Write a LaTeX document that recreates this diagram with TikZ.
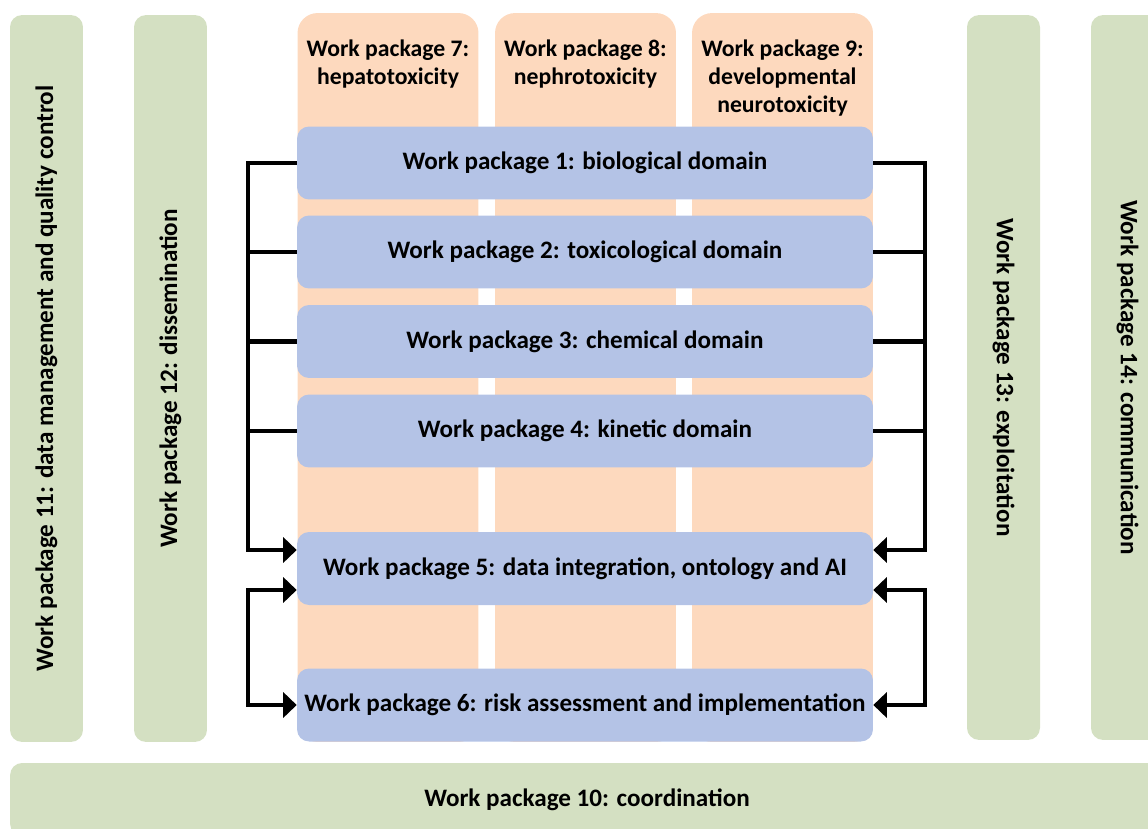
\documentclass[tikz,border=0pt]{standalone}
\usepackage{fontspec}
\setmainfont{Carlito}
\usetikzlibrary{arrows.meta}
\definecolor{sidegreen}{HTML}{D4E0C2}
\definecolor{casepeach}{HTML}{FDD9BE}
\definecolor{domblue}{HTML}{B4C3E6}
\tikzstyle{wpside} = [fill=sidegreen, rounded corners=0.24cm, inner sep=0pt, font=\bfseries\fontsize{14.3}{16}\selectfont]
\tikzstyle{wpcase} = [fill=casepeach, rounded corners=0.4cm, minimum width=3.62cm, minimum height=14.58cm, inner sep=0pt]
\tikzstyle{wptitle} = [font=\bfseries\fontsize{13.5}{15.9}\selectfont, align=center, anchor=north, inner sep=0pt]
\tikzstyle{wpdomain} = [fill=domblue, rounded corners=0.24cm, minimum width=11.52cm, minimum height=1.46cm, inner sep=0pt, font=\bfseries\fontsize{14.3}{16}\selectfont]
\tikzstyle{bus} = [line width=2.3pt]

\begin{document}
\begin{tikzpicture}[x=0.02cm,y=-0.02cm]
    \useasboundingbox (0,0) rectangle (1148,828);
    \clip (0,0) rectangle (1148,828);
    % side work packages
    \node[wpside, rotate=90, minimum width=14.54cm, minimum height=1.46cm] (wp11) at (46.5,378.5) {Work package 11: data management and quality control};
    \node[wpside, rotate=90, minimum width=14.54cm, minimum height=1.46cm] (wp12) at (170.5,378.5) {Work package 12: dissemination};
    \node[wpside, rotate=-90, minimum width=14.5cm, minimum height=1.46cm] (wp13) at (1003.5,377.5) {Work package 13: exploitation};
    \node[wpside, rotate=-90, minimum width=14.5cm, minimum height=1.46cm] (wp14) at (1127.5,377.5) {Work package 14: communication};
    \node[wpside, minimum width=23.08cm, minimum height=1.46cm] (wp10) at (587,799.5) {Work package 10: coordination};
    % case studies
    \node[wpcase] (wp7) at (388,377.5) {};
    \node[wpcase] (wp8) at (585.5,377.5) {};
    \node[wpcase] (wp9) at (782.5,377.5) {};
    \node[wptitle] at ([yshift=-0.54cm]wp7.north) {Work package 7:\\hepatotoxicity};
    \node[wptitle] at ([yshift=-0.54cm]wp8.north) {Work package 8:\\nephrotoxicity};
    \node[wptitle] at ([yshift=-0.54cm]wp9.north) {Work package 9:\\developmental\\neurotoxicity};
    % domains
    \node[wpdomain] (wp1) at (585,163) {Work package 1: biological domain};
    \node[wpdomain] (wp2) at (585,252) {Work package 2: toxicological domain};
    \node[wpdomain] (wp3) at (585,341.5) {Work package 3: chemical domain};
    \node[wpdomain] (wp4) at (585,431) {Work package 4: kinetic domain};
    \node[wpdomain] (wp5) at (585,568.5) {Work package 5: data integration, ontology and AI};
    \node[wpdomain] (wp6) at (585,705) {Work package 6: risk assessment and implementation};
    % left links
    \draw[bus,-{Triangle[length=0.27cm,width=0.5cm]}] (wp1.west) -- ++(-49,0) |- ([yshift=0.37cm]wp5.west);
    \foreach \n in {2,3,4}
        \draw[bus] (wp\n.west) -- ++(-49,0);
    \draw[bus,{Triangle[length=0.27cm,width=0.5cm]}-{Triangle[length=0.27cm,width=0.5cm]}] ([yshift=-0.43cm]wp5.west) -- ++(-49,0) |- (wp6.west);
    % right links
    \draw[bus,-{Triangle[length=0.27cm,width=0.5cm]}] (wp1.east) -- ++(52,0) |- ([yshift=0.37cm]wp5.east);
    \foreach \n in {2,3,4}
        \draw[bus] (wp\n.east) -- ++(52,0);
    \draw[bus,{Triangle[length=0.27cm,width=0.5cm]}-{Triangle[length=0.27cm,width=0.5cm]}] ([yshift=-0.43cm]wp5.east) -- ++(52,0) |- (wp6.east);
\end{tikzpicture}
\end{document}
